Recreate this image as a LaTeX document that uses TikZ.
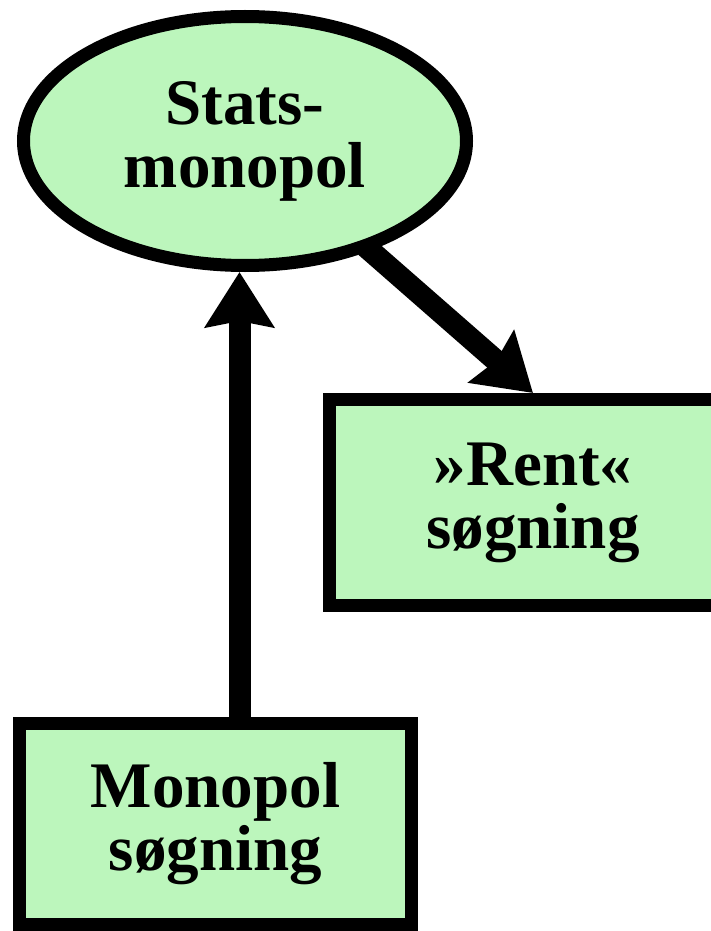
\documentclass[tikz,border=0pt]{standalone}
\usepackage{fontspec}
\setmainfont{Liberation Serif}
\usetikzlibrary{arrows.meta,shapes.geometric}
\definecolor{dotgreen}{RGB}{188,246,188}

\begin{document}
\begin{tikzpicture}[x=1pt,y=-1pt,
		boks/.style={draw, line width=13pt, fill=dotgreen, inner sep=0pt, align=center,
			font=\bfseries\fontsize{65}{63}\selectfont},
		pil/.style={line width=22pt, -{Stealth[length=55pt,width=68pt,inset=6pt]}}]
		\clip (0,0) rectangle (711,931);
		
		\node[boks, ellipse, minimum width=443pt, minimum height=249pt] at (245,141) (stat) {Stats-\\monopol};
		\node[boks, minimum width=407pt, minimum height=206pt] at (533,502.5) (rent) {»Rent«\\søgning};
		\node[boks, minimum width=392pt, minimum height=201pt] at (215.5,824) (mono) {Monopol\\søgning};
		
		\draw[pil, shorten <=-6pt] (stat) -- (rent.north);
		\draw[pil] ([xshift=24pt]mono.north) -- ([xshift=24pt]mono.north |- stat.south);
	\end{tikzpicture}
\end{document}
